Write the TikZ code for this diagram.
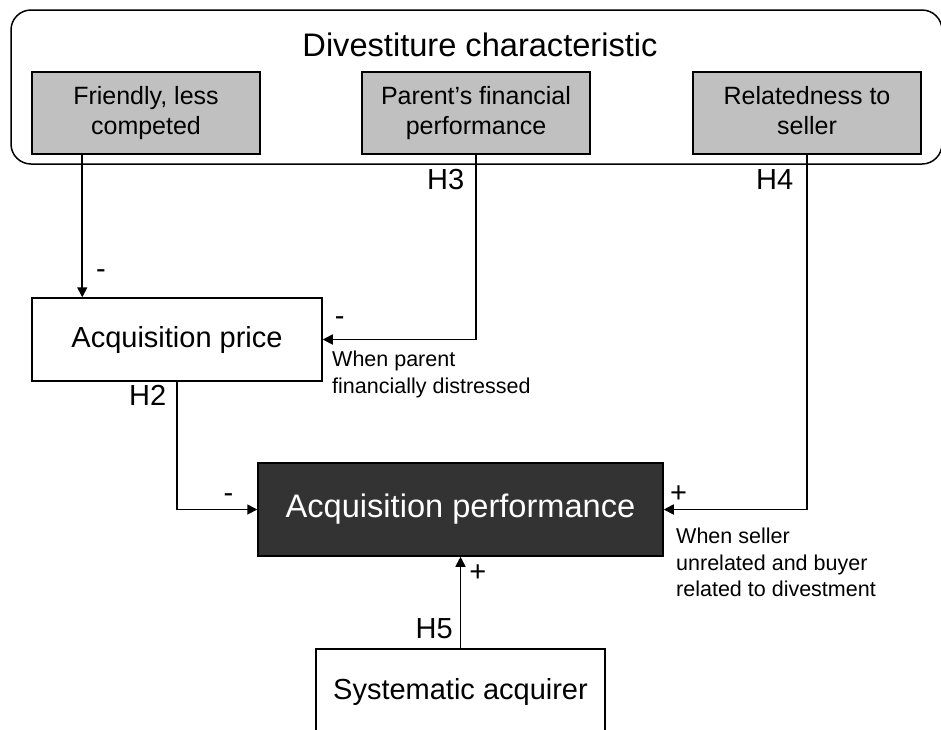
\documentclass[tikz,border=0pt]{standalone}
\usepackage{fontspec}
\setmainfont{Liberation Sans}
\usetikzlibrary{arrows.meta,positioning}
\definecolor{boxgray}{RGB}{192,192,192}
\definecolor{perfdark}{RGB}{51,51,51}

\begin{document}
\begin{tikzpicture}[x=1pt, y=-1pt, >={Triangle[length=10pt,width=10pt]},
  every node/.style={align=center, inner sep=0pt},
  charbox/.style={draw, line width=1.5pt, fill=boxgray, minimum width=228pt, minimum height=82pt, font=\fontsize{25}{30}\selectfont},
  varbox/.style={draw, line width=1.5pt, fill=white, minimum width=290pt, minimum height=83pt, font=\fontsize{29}{34}\selectfont},
  hyp/.style={font=\fontsize{29}{34}\selectfont, text height=0.7em, text depth=0.2em},
  sign/.style={font=\fontsize{29}{34}\selectfont, text height=0.7em, text depth=0.2em},
  cond/.style={align=left, anchor=north west, font=\fontsize{21.5}{26.5}\selectfont},
  link/.style={->, line width=1.7pt}]
  \useasboundingbox (0,0) rectangle (941,729);
  % divestiture frame
  \draw[line width=1.5pt, rounded corners=20pt] (11,10) rectangle (942,164);
  \node[font=\fontsize{32.6}{39}\selectfont] (title) at (480,45) {Divestiture characteristic};
  \node[charbox] (friendly) at (146,113) {Friendly, less\\competed};
  \node[charbox] (parent) at (476,113) {Parent's financial\\performance};
  \node[charbox] (related) at (807,113) {Relatedness to\\seller\vphantom{p}};
  % outcome boxes
  \node[varbox] (price) at (177,339.5) {Acquisition price};
  \node[varbox, minimum width=405pt, minimum height=93pt, fill=perfdark, text=white, font=\fontsize{32.6}{39}\selectfont] (perf) at (460.5,509.5) {Acquisition performance};
  \node[varbox, minimum width=289pt, minimum height=86pt] (syst) at (460.5,692) {Systematic acquirer};
  % hypotheses
  \draw[link] ([xshift=51pt]friendly.south west) -- node[sign, pos=0.85, right=13pt] (m1) {-} ([xshift=51pt]price.north west);
  \draw[link] (parent.south) |- node[hyp, pos=0.086, left=11pt] (h3) {H3} node[sign, pos=0.945, above=11pt] (m2) {-} (price.east);
  \draw[link] (price.south) |- node[hyp, pos=0.082, left=10pt] (h2) {H2} node[sign, pos=0.82, above=4.5pt] (m3) {-} (perf.west);
  \draw[link] (related.south) |- node[hyp, pos=0.045, left=13pt] (h4) {H4} node[sign, pos=0.948, above=4.2pt] (p4) {+} (perf.east);
  \draw[link] (syst.north) -- node[hyp, pos=0.129, left=7pt] (h5) {H5} node[sign, pos=0.76, right=8pt] (p5) {+} (perf.south);
  \node[cond] (c3) at (332,351) {When parent\\financially distressed};
  \node[cond] (c4) at (676,528) {When seller\\unrelated and buyer\\related to divestment};
\end{tikzpicture}
\end{document}
